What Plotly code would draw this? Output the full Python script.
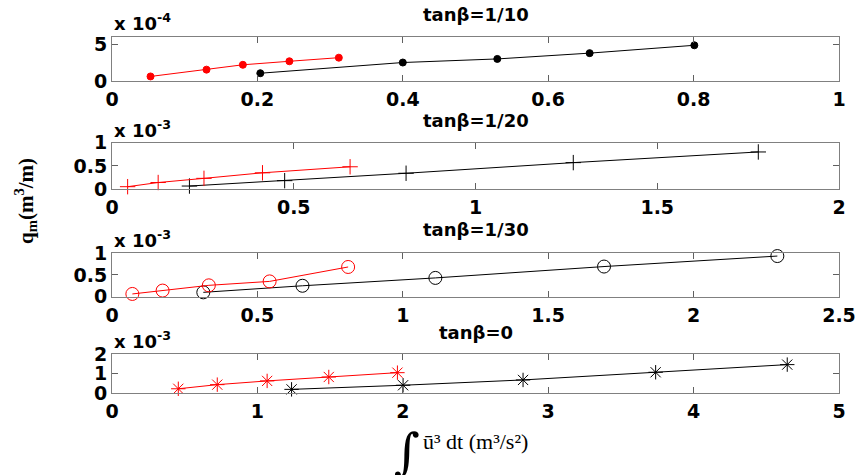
import plotly.graph_objects as go

# ---------------- data (x: integral of u^3 dt, m^3/s^2 ; y: q_m, m^3/m) ----------------
titles = ["tanβ=1/10", "tanβ=1/20", "tanβ=1/30", "tanβ=0"]
exponents = [-4, -3, -3, -3]

# tanβ = 1/10
x1_red = [0.053, 0.130, 0.180, 0.244, 0.312]
y1_red = [0.62e-4, 1.55e-4, 2.21e-4, 2.69e-4, 3.18e-4]
x1_blk = [0.204, 0.400, 0.530, 0.657, 0.801]
y1_blk = [1.06e-4, 2.52e-4, 3.01e-4, 3.80e-4, 4.87e-4]

# tanβ = 1/20
x2_red = [0.043, 0.127, 0.253, 0.414, 0.655]
y2_red = [0.05e-3, 0.14e-3, 0.23e-3, 0.35e-3, 0.48e-3]
x2_blk = [0.213, 0.475, 0.809, 1.269, 1.778]
y2_blk = [0.064e-3, 0.18e-3, 0.34e-3, 0.57e-3, 0.80e-3]

# tanβ = 1/30
x3_red = [0.070, 0.174, 0.333, 0.542, 0.812]
y3_red = [0.063e-3, 0.14e-3, 0.26e-3, 0.35e-3, 0.68e-3]
x3_blk = [0.314, 0.655, 1.112, 1.692, 2.288]
y3_blk = [0.10e-3, 0.25e-3, 0.43e-3, 0.69e-3, 0.93e-3]

# tanβ = 0
x4_red = [0.456, 0.724, 1.067, 1.491, 1.963]
y4_red = [0.23e-3, 0.44e-3, 0.63e-3, 0.83e-3, 1.05e-3]
x4_blk = [1.235, 2.002, 2.827, 3.739, 4.644]
y4_blk = [0.20e-3, 0.41e-3, 0.68e-3, 1.07e-3, 1.46e-3]

x_ranges = [[0, 1], [0, 2], [0, 2.5], [0, 5]]
x_ticks = [[0, 0.2, 0.4, 0.6, 0.8, 1], [0, 0.5, 1, 1.5, 2], [0, 0.5, 1, 1.5, 2, 2.5], [0, 1, 2, 3, 4, 5]]
x_ticktext = [["0", "0.2", "0.4", "0.6", "0.8", "1"], ["0", "0.5", "1", "1.5", "2"],
              ["0", "0.5", "1", "1.5", "2", "2.5"], ["0", "1", "2", "3", "4", "5"]]
y_ranges = [[0, 6], [0, 1], [0, 1], [0, 2]]
y_ticks = [[0, 5], [0, 0.5, 1], [0, 0.5, 1], [0, 1, 2]]
y_ticktext = [["0", "5"], ["0", "0.5", "1"], ["0", "0.5", "1"], ["0", "1", "2"]]

series = [
    (x1_red, y1_red, x1_blk, y1_blk),
    (x2_red, y2_red, x2_blk, y2_blk),
    (x3_red, y3_red, x3_blk, y3_blk),
    (x4_red, y4_red, x4_blk, y4_blk),
]
markers = [
    dict(symbol="circle", size=7),
    dict(symbol="cross-thin-open", size=11),
    dict(symbol="circle-open", size=13),
    dict(symbol="asterisk-open", size=12),
]

# ---------------- layout geometry (pixels) ----------------
W, H = 856, 475
X_LEFT, X_RIGHT = 112, 839
panel_px = [(37, 81), (142.7, 189), (253, 296.7), (354, 393.3)]  # (top, bottom)
title_y = [14, 120, 229, 332]
mult_y = [22, 129, 239, 340]

def px(x):
    return x / W

def py(y):
    return 1 - y / H

TICKFONT = dict(family="DejaVu Sans", size=19, color="black", weight="bold")

fig = go.Figure()
for i in range(4):
    xr, yr, xb, yb = series[i]
    scale = 10 ** exponents[i]
    ax = "" if i == 0 else str(i + 1)
    for xs, ys, col in ((xb, yb, "black"), (xr, yr, "red")):
        mk = dict(markers[i])
        mk["color"] = col
        mk["line"] = dict(color=col, width=1)
        fig.add_trace(go.Scatter(
            x=xs, y=[v / scale for v in ys], mode="lines+markers",
            line=dict(color=col, width=1), marker=mk,
            xaxis="x" + ax, yaxis="y" + ax, showlegend=False, cliponaxis=False,
        ))
    top, bot = panel_px[i]
    common = dict(showline=True, linecolor="#808080", linewidth=1, mirror="ticks",
                  ticks="inside", ticklen=6, tickcolor="#606060", tickwidth=1,
                  showgrid=False, zeroline=False, tickfont=TICKFONT, automargin=False)
    fig.update_layout(**{
        "xaxis" + ax: dict(domain=[px(X_LEFT), px(X_RIGHT)], range=x_ranges[i],
                           tickvals=x_ticks[i], ticktext=x_ticktext[i],
                           anchor="y" + ax, ticklabelstandoff=1, **common),
        "yaxis" + ax: dict(domain=[py(bot), py(top)], range=y_ranges[i],
                           tickvals=y_ticks[i], ticktext=y_ticktext[i],
                           anchor="x" + ax, ticklabelstandoff=0, **common),
    })
    fig.add_annotation(text=titles[i], x=px((X_LEFT + X_RIGHT) / 2), y=py(title_y[i]),
                       xref="paper", yref="paper", showarrow=False,
                       xanchor="center", yanchor="middle",
                       font=dict(family="DejaVu Sans", size=18, color="black", weight="bold"))
    fig.add_annotation(text="x 10<sup>%d</sup>" % exponents[i], x=px(X_LEFT), y=py(mult_y[i]),
                       xref="paper", yref="paper", showarrow=False,
                       xanchor="left", yanchor="middle",
                       font=dict(family="DejaVu Sans", size=18, color="black", weight="bold"))

# axis labels
fig.add_annotation(text="q<sub>m</sub>(m<sup>3</sup>/m)", x=px(25), y=py(201), textangle=-90,
                   xref="paper", yref="paper", showarrow=False, xanchor="center", yanchor="middle",
                   font=dict(family="Liberation Serif", size=21, color="black", weight="bold"))
fig.add_annotation(text="∫", x=px(407), y=py(452), xref="paper", yref="paper", showarrow=False,
                   xanchor="center", yanchor="middle",
                   font=dict(family="DejaVu Serif", size=50, color="black"))
fig.add_annotation(text="ū³ dt (m³/s²)", x=px(421), y=py(441), xref="paper", yref="paper",
                   showarrow=False, xanchor="left", yanchor="middle",
                   font=dict(family="Liberation Serif", size=22, color="black"))

fig.update_layout(width=W, height=H, margin=dict(l=0, r=0, t=0, b=0),
                  paper_bgcolor="white", plot_bgcolor="white", showlegend=False)
fig.write_html("out.html", config={"displayModeBar": False},
               post_script="document.body.style.margin='0';")
